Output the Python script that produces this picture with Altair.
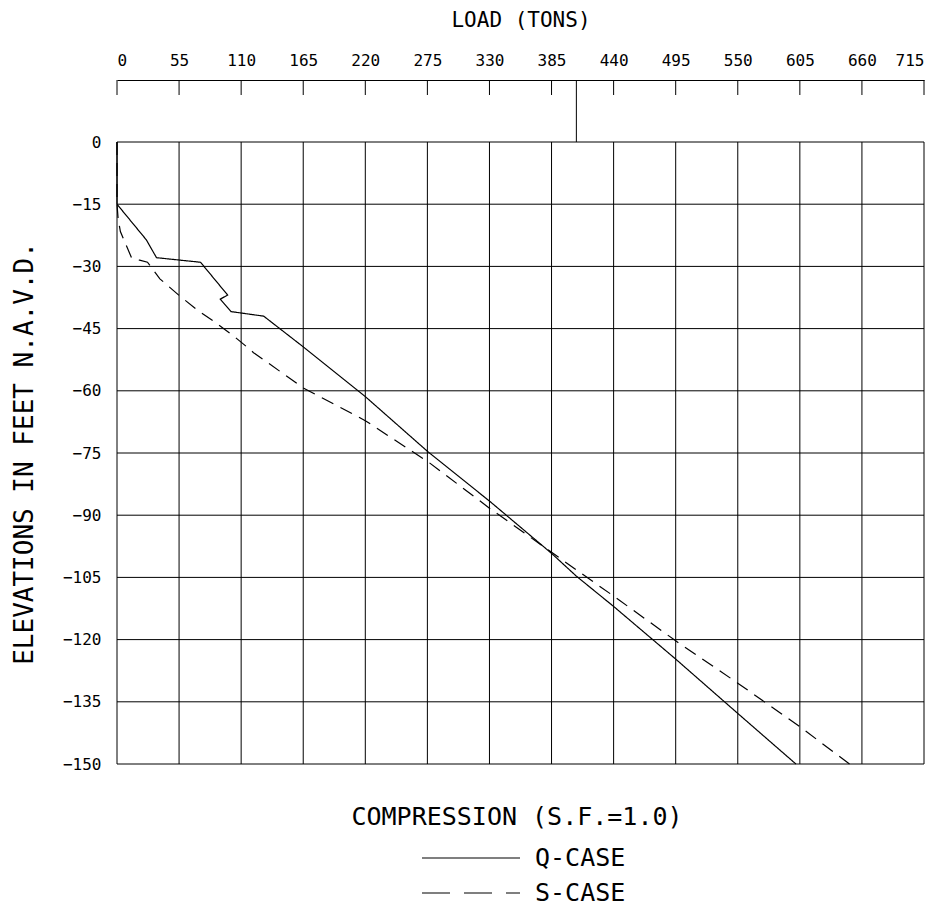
import altair as alt
import pandas as pd

# ---- data ----
x_ticks = [0, 55, 110, 165, 220, 275, 330, 385, 440, 495, 550, 605, 660, 715]
y_ticks = [0, -15, -30, -45, -60, -75, -90, -105, -120, -135, -150]
marker_load = 407

q_load = [0, 0, 26, 35, 74, 98, 91.5, 101, 130, 165, 220, 275.5, 330.5, 385, 407, 440, 495, 550, 601.5]
q_elev = [0, -15, -23.6, -27.9, -29.0, -36.9, -37.9, -40.9, -42.0, -49.4, -61.4, -74.7, -86.7, -99.2, -104.7, -112.0, -124.7, -137.8, -150]

s_load = [0, 0, 1, 3, 13, 20, 27, 38, 55, 71, 86, 102, 111, 121, 165, 220, 276, 330, 407, 440, 495, 550, 605, 649]
s_elev = [0, -15, -18.5, -21.6, -28.0, -28.5, -29.0, -33.0, -37.0, -40.5, -43.3, -46.5, -48.5, -50.8, -59.3, -67.2, -77.2, -88.3, -103.2, -109.5, -120.3, -130.5, -141.0, -150]

FONT = "DejaVu Sans Mono"

curves = pd.DataFrame(
    [{"case": "Q-CASE", "i": i, "load": a, "elev": b} for i, (a, b) in enumerate(zip(q_load, q_elev))]
    + [{"case": "S-CASE", "i": i, "load": a, "elev": b} for i, (a, b) in enumerate(zip(s_load, s_elev))]
)
gx = pd.DataFrame({"load": x_ticks})
gy = pd.DataFrame({"elev": y_ticks})

xscale = alt.Scale(domain=[0, 715], nice=False, zero=False)
yscale = alt.Scale(domain=[-150, 0], nice=False, zero=False)

xaxis = alt.Axis(
    orient="top", values=x_ticks, offset=62, ticks=False, grid=False,
    domain=True, domainColor="black", domainWidth=1,
    labelFont=FONT, labelFontSize=16, labelColor="black", labelPadding=12,
    title="LOAD (TONS)", titleFont=FONT, titleFontSize=21, titleFontWeight="normal",
    titleColor="black", titlePadding=22,
)
yaxis = alt.Axis(
    orient="left", values=y_ticks, ticks=False, grid=False, domain=False,
    labelFont=FONT, labelFontSize=16, labelColor="black", labelPadding=16,
    title="ELEVATIONS IN FEET N.A.V.D.", titleFont=FONT, titleFontSize=26,
    titleFontWeight="normal", titleColor="black", titleAngle=270,
    titleX=-93, titleY=311, titleAlign="center", titleBaseline="middle",
)

X = alt.X("load:Q", scale=xscale, axis=xaxis)
Y = alt.Y("elev:Q", scale=yscale, axis=yaxis)

grid_x = alt.Chart(gx).mark_rule(color="black", strokeWidth=1).encode(x=X)
grid_y = alt.Chart(gy).mark_rule(color="black", strokeWidth=1).encode(y=Y)
top_ticks = alt.Chart(gx).mark_rule(color="black", strokeWidth=1).encode(
    x=X, y=alt.value(-62), y2=alt.value(-47)
)
marker = alt.Chart(pd.DataFrame({"load": [marker_load]})).mark_rule(color="black", strokeWidth=1).encode(
    x=X, y=alt.value(-62), y2=alt.value(0)
)
lines = alt.Chart(curves).mark_line(color="black", strokeWidth=1.2).encode(
    x=X, y=Y, order="i:Q",
    strokeDash=alt.StrokeDash("case:N", scale=alt.Scale(domain=["Q-CASE", "S-CASE"], range=[[1, 0], [13, 8]]), legend=None),
)

comp = alt.Chart(pd.DataFrame({"t": ["COMPRESSION (S.F.=1.0)"]})).mark_text(
    font=FONT, fontSize=25, color="black", align="center", baseline="middle"
).encode(text="t:N", x=alt.value(400), y=alt.value(675))

leg_q = alt.Chart(pd.DataFrame({"t": ["Q-CASE"]})).mark_rule(color="black", strokeWidth=1.2).encode(
    x=alt.value(305), x2=alt.value(403), y=alt.value(716)
)
leg_s = alt.Chart(pd.DataFrame({"t": ["S-CASE"]})).mark_rule(color="black", strokeWidth=1.2, strokeDash=[28, 14]).encode(
    x=alt.value(305), x2=alt.value(403), y=alt.value(751)
)
leg_qt = alt.Chart(pd.DataFrame({"t": ["Q-CASE"]})).mark_text(
    font=FONT, fontSize=25, color="black", align="left", baseline="middle"
).encode(text="t:N", x=alt.value(418), y=alt.value(716))
leg_st = alt.Chart(pd.DataFrame({"t": ["S-CASE"]})).mark_text(
    font=FONT, fontSize=25, color="black", align="left", baseline="middle"
).encode(text="t:N", x=alt.value(418), y=alt.value(751))

chart = alt.layer(
    grid_x, grid_y, top_ticks, marker, lines, comp, leg_q, leg_s, leg_qt, leg_st
).properties(
    width=807, height=622,
    autosize=alt.AutoSizeParams(type="none"),
    padding={"left": 109, "top": 134, "right": 14, "bottom": 143},
).configure_view(stroke=None)

chart.save("out.html", embed_options={"renderer": "svg", "actions": False})
